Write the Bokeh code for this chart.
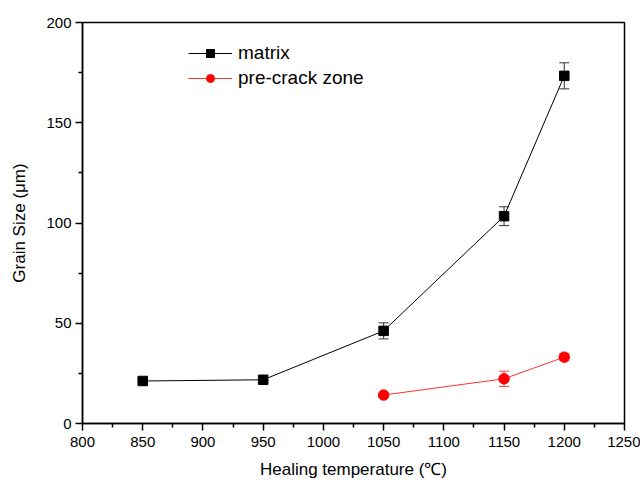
from bokeh.plotting import figure
from bokeh.models import ColumnDataSource, Whisker, TeeHead, Legend, LegendItem, Range1d, FixedTicker
from bokeh.embed import file_html
from bokeh.resources import INLINE

# data
matrix_temp = [850, 950, 1050, 1150, 1200]
matrix_size = [21.2, 21.8, 46.2, 103.4, 173.4]
matrix_err = [0.0, 0.0, 4.0, 4.7, 6.5]

zone_temp = [1050, 1150, 1200]
zone_size = [14.2, 22.3, 33.1]
zone_err = [0.0, 3.8, 1.8]

x_ticks = [800, 850, 900, 950, 1000, 1050, 1100, 1150, 1200, 1250]
y_ticks = [0, 50, 100, 150, 200]

FONT = "Liberation Sans"

p = figure(frame_width=542, frame_height=401, output_backend="svg", toolbar_location=None,
           x_range=Range1d(800, 1250), y_range=Range1d(0, 200),
           min_border_left=82, min_border_top=22, min_border_right=16, min_border_bottom=60)
p.background_fill_color = "white"
p.border_fill_color = "white"
p.grid.visible = False
p.outline_line_color = "black"
p.outline_line_width = 1.5

for ax, ticks in ((p.xaxis[0], x_ticks), (p.yaxis[0], y_ticks)):
    ax.ticker = FixedTicker(ticks=ticks, minor_ticks=[t + (ticks[1]-ticks[0])/2 for t in ticks[:-1]])
    ax.axis_line_width = 1.5
    ax.major_tick_line_width = 1.5
    ax.minor_tick_line_width = 1.5
    ax.major_tick_in = 0
    ax.major_tick_out = 7
    ax.minor_tick_in = 0
    ax.minor_tick_out = 4
    ax.major_label_text_font = FONT
    ax.major_label_text_font_size = "15px"
    ax.major_label_text_color = "black"
    ax.axis_label_text_font = FONT
    ax.axis_label_text_font_size = "17px"
    ax.axis_label_text_font_style = "normal"
    ax.axis_label_text_color = "black"

p.xaxis.axis_label = "Healing temperature (℃)"
p.yaxis.axis_label = "Grain Size (μm)"
p.xaxis.major_label_standoff = 6
p.yaxis.major_label_standoff = 4
p.xaxis.axis_label_standoff = 10
p.yaxis.axis_label_standoff = 14

ms = ColumnDataSource(dict(x=matrix_temp, y=matrix_size,
                           lo=[v - e for v, e in zip(matrix_size, matrix_err)],
                           hi=[v + e for v, e in zip(matrix_size, matrix_err)]))
zs = ColumnDataSource(dict(x=zone_temp, y=zone_size,
                           lo=[v - e for v, e in zip(zone_size, zone_err)],
                           hi=[v + e for v, e in zip(zone_size, zone_err)]))

p.add_layout(Whisker(source=ms, base="x", lower="lo", upper="hi", line_color="#333333", line_width=1,
                     upper_head=TeeHead(size=10, line_color="#333333", line_width=1),
                     lower_head=TeeHead(size=10, line_color="#333333", line_width=1)))
p.add_layout(Whisker(source=zs, base="x", lower="lo", upper="hi", line_color="#ff4040", line_width=1,
                     upper_head=TeeHead(size=10, line_color="#ff4040", line_width=1),
                     lower_head=TeeHead(size=10, line_color="#ff4040", line_width=1)))

l1 = p.line("x", "y", source=ms, line_color="black", line_width=1)
m1 = p.scatter("x", "y", source=ms, marker="square", size=9.5, fill_color="black", line_color="black")
l2 = p.line("x", "y", source=zs, line_color="#ff3030", line_width=1)
m2 = p.scatter("x", "y", source=zs, marker="circle", size=10.5, fill_color="red", line_color="red")

leg = Legend(items=[LegendItem(label="matrix", renderers=[l1, m1]),
                    LegendItem(label="pre-crack zone", renderers=[l2, m2])],
             location=(102, 330), border_line_alpha=0, background_fill_alpha=0,
             label_text_font=FONT, label_text_font_size="19px", label_text_color="black",
             glyph_width=44, glyph_height=20, spacing=3, label_standoff=6, padding=4, margin=0)
p.add_layout(leg)

open("out.html", "w").write(file_html(p, INLINE))
